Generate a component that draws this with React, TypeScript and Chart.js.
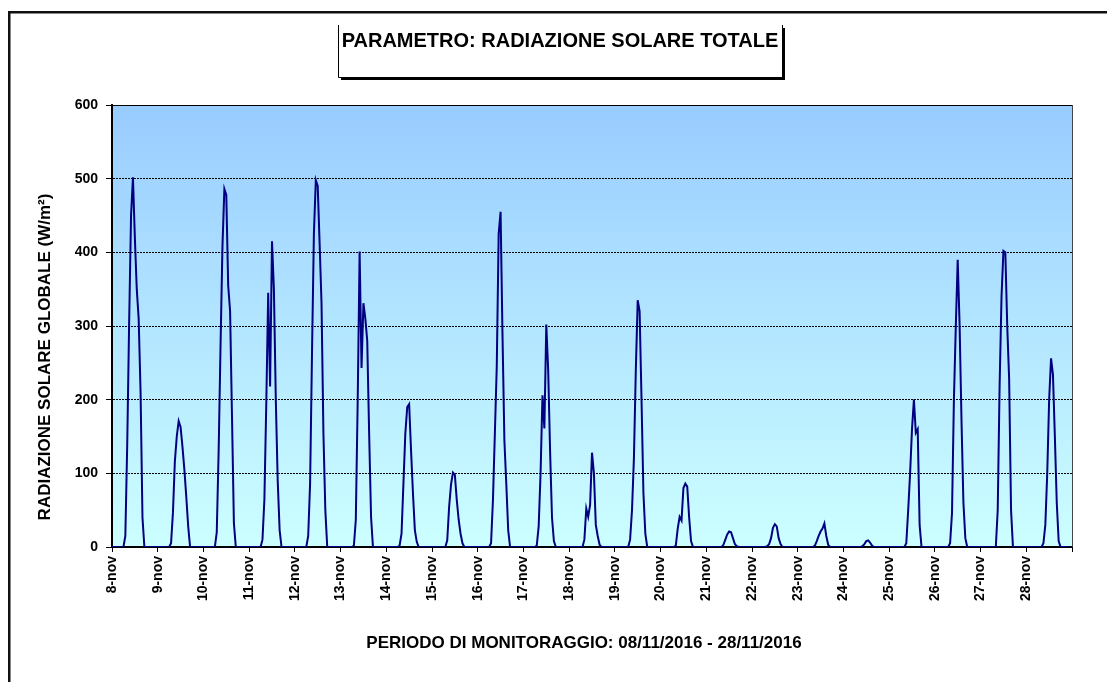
import React, { useEffect, useRef } from 'react';
import { Chart, registerables } from 'chart.js';

Chart.register(...registerables);

// ---- data: hourly global solar radiation (W/m²), one array per day (hours 0..23)
const DAY_LABELS = [
  '8-nov', '9-nov', '10-nov', '11-nov', '12-nov', '13-nov', '14-nov', '15-nov', '16-nov', '17-nov', '18-nov',
  '19-nov', '20-nov', '21-nov', '22-nov', '23-nov', '24-nov', '25-nov', '26-nov', '27-nov', '28-nov',
];
const day08 = [0, 0, 0, 0, 0, 0, 0, 15, 140, 305, 450, 502, 420, 350, 310, 210, 40, 0, 0, 0, 0, 0, 0, 0];
const day09 = [0, 0, 0, 0, 0, 0, 0, 5, 47, 116, 150, 171, 163, 136, 105, 68, 28, 0, 0, 0, 0, 0, 0, 0];
const day10 = [0, 0, 0, 0, 0, 0, 0, 20, 132, 276, 409, 486, 478, 355, 320, 177, 32, 0, 0, 0, 0, 0, 0, 0];
const day11 = [0, 0, 0, 0, 0, 0, 0, 10, 64, 195, 345, 218, 415, 350, 200, 90, 23, 0, 0, 0, 0, 0, 0, 0];
const day12 = [0, 0, 0, 0, 0, 0, 0, 15, 86, 263, 426, 498, 490, 412, 331, 154, 50, 0, 0, 0, 0, 0, 0, 0];
const day13 = [0, 0, 0, 0, 0, 0, 0, 2, 37, 200, 401, 243, 331, 310, 280, 154, 41, 0, 0, 0, 0, 0, 0, 0];
const day14 = [0, 0, 0, 0, 0, 0, 0, 2, 18, 86, 154, 190, 194, 131, 73, 23, 7, 0, 0, 0, 0, 0, 0, 0];
const day15 = [0, 0, 0, 0, 0, 0, 0, 0, 9, 55, 85, 101, 98, 64, 37, 18, 5, 0, 0, 0, 0, 0, 0, 0];
const day16 = [0, 0, 0, 0, 0, 0, 0, 5, 64, 154, 245, 425, 455, 290, 145, 86, 23, 0, 0, 0, 0, 0, 0, 0];
const day17 = [0, 0, 0, 0, 0, 0, 0, 2, 28, 100, 206, 161, 302, 240, 130, 40, 8, 0, 0, 0, 0, 0, 0, 0];
const day18 = [0, 0, 0, 0, 0, 0, 0, 0, 10, 52, 41, 57, 128, 100, 30, 15, 3, 0, 0, 0, 0, 0, 0, 0];
const day19 = [0, 0, 0, 0, 0, 0, 0, 0, 10, 50, 120, 240, 335, 320, 200, 73, 18, 0, 0, 0, 0, 0, 0, 0];
const day20 = [0, 0, 0, 0, 0, 0, 0, 0, 2, 25, 41, 36, 80, 86, 82, 40, 8, 0, 0, 0, 0, 0, 0, 0];
const day21 = [0, 0, 0, 0, 0, 0, 0, 0, 0, 3, 10, 17, 21, 20, 12, 4, 1, 0, 0, 0, 0, 0, 0, 0];
const day22 = [0, 0, 0, 0, 0, 0, 0, 0, 1, 4, 12, 26, 31, 28, 12, 4, 0, 0, 0, 0, 0, 0, 0, 0];
const day23 = [0, 0, 0, 0, 0, 0, 0, 0, 0, 2, 8, 15, 21, 25, 32, 15, 3, 0, 0, 0, 0, 0, 0, 0];
const day24 = [0, 0, 0, 0, 0, 0, 0, 0, 0, 0, 1, 4, 8, 9, 6, 2, 0, 0, 0, 0, 0, 0, 0, 0];
const day25 = [0, 0, 0, 0, 0, 0, 0, 0, 0, 5, 50, 100, 160, 200, 155, 160, 30, 0, 0, 0, 0, 0, 0, 0];
const day26 = [0, 0, 0, 0, 0, 0, 0, 0, 5, 46, 200, 300, 390, 300, 170, 60, 12, 0, 0, 0, 0, 0, 0, 0];
const day27 = [0, 0, 0, 0, 0, 0, 0, 0, 0, 50, 220, 340, 402, 400, 300, 228, 50, 0, 0, 0, 0, 0, 0, 0];
const day28 = [0, 0, 0, 0, 0, 0, 0, 0, 0, 5, 30, 100, 200, 256, 234, 150, 60, 8, 0, 0, 0, 0, 0, 0];

const DAYS = [day08, day09, day10, day11, day12, day13, day14, day15, day16, day17, day18,
  day19, day20, day21, day22, day23, day24, day25, day26, day27, day28];
const HOURS_PER_DAY = 24;
const Y_MAX = 600;
const Y_STEP = 100;

const TITLE = 'PARAMETRO: RADIAZIONE SOLARE TOTALE';
const X_TITLE = 'PERIODO DI MONITORAGGIO: 08/11/2016 - 28/11/2016';
const Y_TITLE = 'RADIAZIONE SOLARE GLOBALE (W/m²)';

const FONT = '"Liberation Sans", Arial, sans-serif';

const decorPlugin = {
  id: 'decor',
  beforeDraw(chart: any) {
    const { ctx, chartArea: a } = chart;
    ctx.save();
    ctx.fillStyle = '#ffffff';
    ctx.fillRect(0, 0, chart.width, chart.height);
    const g = ctx.createLinearGradient(0, a.top, 0, a.bottom);
    g.addColorStop(0, '#99CCFF');
    g.addColorStop(1, '#CCFFFF');
    ctx.fillStyle = g;
    ctx.fillRect(a.left, a.top, a.right - a.left, a.bottom - a.top);
    ctx.restore();
  },
  afterDraw(chart: any) {
    const { ctx, chartArea: a } = chart;
    ctx.save();
    // plot frame top / right
    ctx.strokeStyle = '#000';
    ctx.lineWidth = 1;
    ctx.beginPath();
    ctx.moveTo(a.left, a.top + 0.5);
    ctx.lineTo(a.right, a.top + 0.5);
    ctx.stroke();
    ctx.strokeStyle = '#444';
    ctx.beginPath();
    ctx.moveTo(a.right + 0.5, a.top);
    ctx.lineTo(a.right + 0.5, a.bottom);
    ctx.stroke();

    // outer frame (top and left)
    ctx.fillStyle = '#111';
    ctx.fillRect(8, 11, chart.width - 8, 2.5);
    ctx.fillRect(8, 11, 2.5, chart.height - 11);

    // title box with shadow
    ctx.fillStyle = '#000';
    ctx.fillRect(341, 77, 444, 3);
    ctx.fillRect(782, 28, 3, 52);
    ctx.strokeStyle = '#000';
    ctx.lineWidth = 1;
    ctx.beginPath();
    ctx.moveTo(338.5, 25);
    ctx.lineTo(338.5, 77.5);
    ctx.lineTo(782.5, 77.5);
    ctx.lineTo(782.5, 25);
    ctx.stroke();
    ctx.fillStyle = '#000';
    ctx.font = `bold 20px ${FONT}`;
    ctx.textAlign = 'center';
    ctx.textBaseline = 'alphabetic';
    ctx.fillText(TITLE, 560, 47);

    // axis titles
    ctx.font = `bold 17px ${FONT}`;
    ctx.fillText(X_TITLE, 584, 648);
    ctx.translate(45, 357);
    ctx.rotate(-Math.PI / 2);
    ctx.textBaseline = 'middle';
    ctx.fillText(Y_TITLE, 0, 0);
    ctx.restore();
  },
};

export default function App() {
  const ref = useRef<HTMLCanvasElement | null>(null);

  useEffect(() => {
    const canvas = ref.current;
    if (!canvas) return;
    const points: { x: number; y: number }[] = [];
    DAYS.forEach((day, d) => {
      day.forEach((v, h) => points.push({ x: d * HOURS_PER_DAY + h, y: v }));
    });
    const xMax = DAY_LABELS.length * HOURS_PER_DAY;

    const chart = new Chart(canvas, {
      type: 'line',
      data: {
        datasets: [
          {
            data: points,
            borderColor: '#000080',
            borderWidth: 2,
            pointRadius: 0,
            tension: 0,
            fill: false,
          },
        ],
      },
      options: {
        responsive: false,
        animation: false,
        devicePixelRatio: 1,
        layout: { padding: { left: 0, top: 105, right: 35, bottom: 75 } },
        plugins: { legend: { display: false }, tooltip: { enabled: false }, title: { display: false } },
        scales: {
          x: {
            type: 'linear',
            min: 0,
            max: xMax,
            afterFit: (s: any) => { s.height = 60; },
            border: { display: true, color: '#000', width: 2 },
            grid: { drawOnChartArea: false, drawTicks: true, tickLength: 5, tickColor: '#000', tickWidth: 1 },
            ticks: {
              stepSize: HOURS_PER_DAY,
              autoSkip: false,
              maxRotation: 90,
              minRotation: 90,
              padding: 4,
              color: '#000',
              font: { family: FONT, size: 14, weight: 'bold' },
              callback: (v: any) => {
                const i = Math.round(Number(v) / HOURS_PER_DAY);
                return DAY_LABELS[i] ?? '';
              },
            },
          },
          y: {
            min: 0,
            max: Y_MAX,
            afterFit: (s: any) => { s.width = 112; },
            border: { display: true, color: '#000', width: 2, dash: [2, 1] },
            grid: {
              color: (c: any) => (c.tick && (c.tick.value === 0 || c.tick.value === Y_MAX) ? 'rgba(0,0,0,0)' : '#000'),
              lineWidth: 1,
              tickLength: 6,
              tickColor: '#000',
              tickWidth: 1,
            },
            ticks: {
              stepSize: Y_STEP,
              padding: 8,
              color: '#000',
              font: { family: FONT, size: 14, weight: 'bold' },
            },
          },
        },
      },
      plugins: [decorPlugin],
    } as any);
    return () => chart.destroy();
  }, []);

  return (
    <div style={{ position: 'absolute', left: 0, top: 0, width: 1107, height: 682 }}>
      <canvas ref={ref} width={1107} height={682} style={{ display: 'block', width: 1107, height: 682 }} />
    </div>
  );
}
